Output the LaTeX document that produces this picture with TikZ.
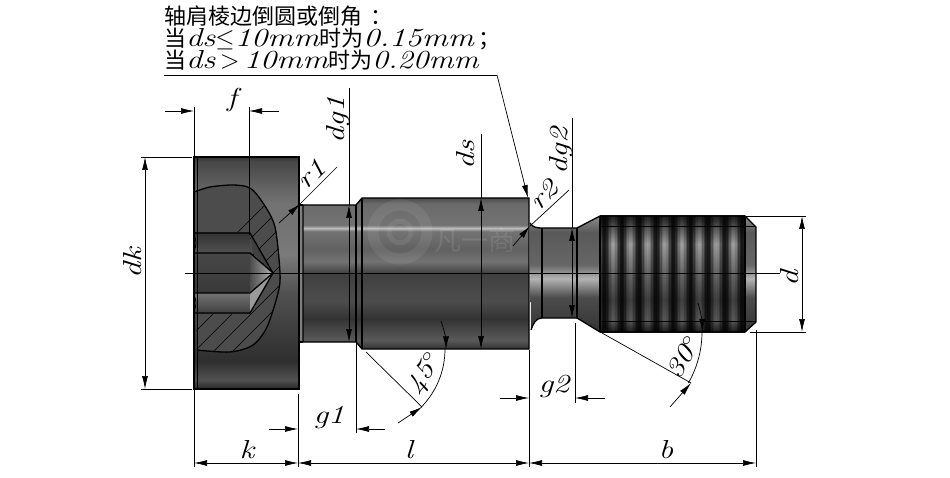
\documentclass[tikz,border=0pt]{standalone}
\usepackage{fontspec}
\newfontfamily\cjk{Noto Sans CJK SC}
\usetikzlibrary{arrows.meta}
\pgfdeclareverticalshading{headshade}{100bp}{color(0bp)=(black!85); color(25bp)=(black!85); color(27bp)=(black!68); color(31bp)=(black!82); color(46bp)=(black!68); color(54bp)=(black!52); color(60bp)=(black!55); color(65bp)=(black!55); color(74bp)=(black!72); color(75bp)=(black!80); color(100bp)=(black!80)}
\pgfdeclareverticalshading{bodyshade}{100bp}{color(0bp)=(black!80); color(25bp)=(black!80); color(28bp)=(black!65); color(35bp)=(black!80); color(41bp)=(black!70); color(50bp)=(black!75); color(54bp)=(black!55); color(58bp)=(black!62); color(64bp)=(black!55); color(65bp)=(black!25); color(66bp)=(black!55); color(73bp)=(black!58); color(75bp)=(black!70); color(100bp)=(black!70)}
\pgfdeclareverticalshading{threadshade}{100bp}{color(0bp)=(black!90); color(25bp)=(black!90); color(30bp)=(black!65); color(39bp)=(black!75); color(50bp)=(black!60); color(56bp)=(black!50); color(63bp)=(black!38); color(71bp)=(black!70); color(75bp)=(black!88); color(100bp)=(black!88)}
\pgfdeclareverticalshading{coneshade}{100bp}{color(0bp)=(black!80); color(25bp)=(black!80); color(40bp)=(black!70); color(48bp)=(black!30); color(54bp)=(black!60); color(68bp)=(black!65); color(75bp)=(black!45); color(100bp)=(black!45)}
\tikzset{
  edge/.style={line width=1.3pt, black},
  dimline/.style={line width=.7pt, black},
  dimarrow/.style={dimline, -{Latex[length=13pt,width=6pt]}},
  lab/.style={inner sep=0pt, font=\fontsize{26}{26}\selectfont\itshape},
  notetext/.style={inner sep=0pt, anchor=base west, font=\fontsize{26}{26}\selectfont},
}
\newcommand{\wide}[1]{\scalebox{1.25}[1]{#1}}
\newcommand{\zh}[1]{{\fontsize{22}{24}\selectfont\cjk #1}}
\newcommand{\seccurve}{plot[smooth] coordinates {(194,192) (210,187) (233,185) (250,188) (263,203) (275,227) (280,273) (278,293) (267,327) (253,345) (230,352) (197,350)}}
\begin{document}
\begin{tikzpicture}[x=1pt,y=-1pt]
  \useasboundingbox[fill=white] (0,0) rectangle (950,478);
  % Cabeca e corpo
  \path[shade, shading=headshade] (194,157) rectangle (299,389);
  \fill[black!50] (299,205) rectangle (303,342);
  \path[shade, shading=bodyshade] (303,205) -- (356,205) -- (362,198) -- (529,198) -- (529,349) -- (362,349) -- (356,342) -- (303,342) -- cycle;
  \path[shade, shading=coneshade] (530,223) to[out=-60,in=180] (542,228) -- (577,228) -- (600,216) -- (600,332) -- (577,318) -- (542,318) to[out=180,in=70] (531,330) -- cycle;
  \path[shade, shading=threadshade] (600,216) -- (745,216) -- (745,332) -- (600,332) -- cycle;
  \path[shade, shading=coneshade] (745,216) -- (756,227) -- (756,322) -- (745,332) -- cycle;
  % Marca d'agua
  \draw[white, opacity=.07, line width=11pt] (400,232) circle (27pt);
  \draw[white, opacity=.07, line width=5pt] (400,232) circle (11pt);
  \node[inner sep=0pt, text=white, opacity=.1, font=\fontsize{27}{27}\selectfont\cjk] (mark) at (475,240) {凡一商};
  % Sulcos da rosca
  \foreach \x in {600,601.5,...,744} {
    \pgfmathsetmacro\groove{0.85*(0.5-0.5*cos(20.93*(\x+0.75-613)))}
    \fill[black, fill opacity=\groove] (\x,216) rectangle (\x+1.5,332);
  }
  % Secao do furo
  \fill[black!70] \seccurve -- cycle;
  \begin{scope}
    \clip \seccurve -- cycle;
    \foreach \i in {0,...,11} {
      \draw[dimline] ({110+\i*19},360) -- ({310+\i*19},160);
    }
  \end{scope}
  \draw[edge] \seccurve;
  % Sextavado interno
  \shade[top color=black!80, bottom color=black!68] (194,233) rectangle (250,253);
  \shade[top color=black!72, bottom color=black!78] (194,253) rectangle (250,293);
  \shade[top color=black!55, bottom color=black!75] (194,293) rectangle (250,313);
  \fill[black!75] (250,233) -- (273,273) -- (253,253) -- cycle;
  \shade[left color=black!70, right color=black!30] (250,253) -- (273,273) -- (250,293) -- cycle;
  \fill[black!40] (250,293) -- (273,273) -- (250,313) -- cycle;
  \draw[edge] (194,233) -- (250,233) -- (273,273) -- (250,313) -- (194,313);
  \draw[edge] (194,253) -- (250,253) -- (273,273) -- (250,293) -- (194,293);
  \draw[dimline] (194,235) to[bend left=25] (194,251) (194,295) to[bend left=25] (194,311);
  % Contornos
  \draw[edge] (194,157) rectangle (299,389);
  \draw[dimline] (194,157) -- (194,389) (197,157) -- (197,389);
  \draw[edge] (303,205) -- (356,205) -- (362,198) -- (529,198) -- (529,349) -- (362,349) -- (356,342) -- (303,342) -- cycle;
  \draw[edge] (299,205) -- (303,205) (299,342) -- (303,342);
  \draw[edge] (356,205) -- (356,342) (362,198) -- (362,349);
  \draw[edge] (530,223) to[out=-60,in=180] (542,228) -- (577,228) -- (600,216) -- (745,216) -- (756,227) -- (756,322) -- (745,332) -- (600,332) -- (577,318) -- (542,318) to[out=180,in=70] (531,330);
  \draw[edge] (542,228) -- (542,318) (577,228) -- (577,318) (600,216) -- (600,332) (745,216) -- (745,332);
  \draw[dimline] (600,226) -- (756,226) (600,321) -- (756,321);
  % Eixo
  \coordinate (ca) at (185,273);
  \coordinate (cb) at (780,273);
  \draw[dimline] (ca) -- (cb);
  % Nota
  \node[notetext] (n1) at (164,25) {\zh{轴肩棱边倒圆或倒角\hspace{8pt}：}};
  \node[notetext] (n2) at (164,47) {\zh{当}\wide{\itshape ds}$\le$\wide{\itshape 10mm}\zh{时为}\wide{\itshape 0.15mm}\zh{\hspace{5pt}；}};
  \node[notetext] (n3) at (164,69) {\zh{当}\wide{\itshape ds}\,>\,\wide{\itshape 10mm}\zh{时为}\scalebox{1.2}[1]{\itshape 0.20mm}};
  \coordinate (nl) at (164,75);
  \coordinate (nk) at (497,75);
  \coordinate (nt) at (528,198);
  \draw[dimline] (nl) -- (nk);
  \draw[dimarrow] (nk) -- (nt);
  % Cota f
  \coordinate (fa) at (194,107); \coordinate (fb) at (194,157);
  \coordinate (fc) at (249,107); \coordinate (fd) at (249,235);
  \coordinate (fl) at (165,111); \coordinate (fr) at (279,111);
  \draw[dimline] (fa) -- (fb) (fc) -- (fd);
  \draw[dimarrow] (fl) -- (194,111);
  \draw[dimarrow] (fr) -- (249,111);
  \node[lab] (flab) at (232,100) {\wide{f}};
  % Cota dk
  \coordinate (ka) at (141,157); \coordinate (kb) at (192,157);
  \coordinate (kc) at (141,389); \coordinate (kd) at (192,389);
  \coordinate (ke) at (145,262);
  \draw[dimline] (ka) -- (kb) (kc) -- (kd);
  \draw[dimarrow] (ke) -- (145,157);
  \draw[dimarrow] (ke) -- (145,389);
  \node[lab, rotate=90] (dklab) at (133,263) {\wide{dk}};
  % Cota dg1
  \coordinate (ga) at (349,88); \coordinate (gb) at (349,273);
  \draw[dimline] (ga) -- (349,205);
  \draw[dimarrow] (gb) -- (349,205);
  \draw[dimarrow] (gb) -- (349,342);
  \node[lab, rotate=90] (dg1lab) at (338,120) {\wide{dg1}};
  % Cota ds
  \coordinate (sa) at (481,134); \coordinate (sb) at (481,273);
  \draw[dimline] (sa) -- (481,198);
  \draw[dimarrow] (sb) -- (481,198);
  \draw[dimarrow] (sb) -- (481,349);
  \node[lab, rotate=90] (dslab) at (466,155) {\wide{ds}};
  % Cota dg2
  \coordinate (ha) at (572,118); \coordinate (hb) at (572,273);
  \draw[dimline] (ha) -- (572,228);
  \draw[dimarrow] (hb) -- (572,228);
  \draw[dimarrow] (hb) -- (572,318);
  \node[lab, rotate=90] (dg2lab) at (561,151) {\wide{dg2}};
  % Cota d
  \coordinate (da) at (745,216); \coordinate (db) at (806,216);
  \coordinate (dc) at (750,332); \coordinate (dd) at (806,332);
  \coordinate (de) at (802,274);
  \draw[dimline] (da) -- (db) (dc) -- (dd);
  \draw[dimarrow] (de) -- (802,216);
  \draw[dimarrow] (de) -- (802,332);
  \node[lab, rotate=90] (dlab) at (790,278) {\wide{d}};
  % Cotas k, l, b
  \coordinate (ea) at (194,389); \coordinate (eb) at (194,467);
  \coordinate (ec) at (298,394); \coordinate (ed) at (298,467);
  \coordinate (ee) at (529,350); \coordinate (ef) at (529,467);
  \coordinate (eg) at (756,330); \coordinate (eh) at (756,467);
  \draw[dimline] (ea) -- (eb) (ec) -- (ed) (ee) -- (ef) (eg) -- (eh);
  \draw[dimarrow] (246,463) -- (194,463);
  \draw[dimarrow] (246,463) -- (298,463);
  \draw[dimarrow] (413,463) -- (298,463);
  \draw[dimarrow] (413,463) -- (529,463);
  \draw[dimarrow] (642,463) -- (529,463);
  \draw[dimarrow] (642,463) -- (756,463);
  \node[lab] (klab) at (247,450) {\wide{k}};
  \node[lab] (llab) at (409,450) {\wide{l}};
  \node[lab] (blab) at (666,450) {\wide{b}};
  % Cota g1
  \coordinate (ia) at (356,342); \coordinate (ib) at (356,433);
  \coordinate (il) at (269,429); \coordinate (ir) at (385,429);
  \draw[dimline] (ia) -- (ib);
  \draw[dimarrow] (il) -- (298,429);
  \draw[dimarrow] (ir) -- (356,429);
  \node[lab] (g1lab) at (329,418) {\wide{g1}};
  % Cota g2
  \coordinate (ja) at (575,323); \coordinate (jb) at (575,403);
  \coordinate (jl) at (500,398); \coordinate (jr) at (605,398);
  \draw[dimline] (ja) -- (jb);
  \draw[dimarrow] (jl) -- (529,398);
  \draw[dimarrow] (jr) -- (575,398);
  \node[lab] (g2lab) at (554,387) {\wide{g2}};
  % Raios
  \coordinate (ra) at (337,167); \coordinate (rb) at (300,204); \coordinate (rc) at (279,223);
  \draw[dimline] (ra) -- (rb);
  \draw[dimarrow] (rc) -- (rb);
  \node[lab, rotate=45] (r1lab) at (311,174) {\wide{r1}};
  \coordinate (sc) at (569,190); \coordinate (sd) at (530,226); \coordinate (se) at (513,246);
  \draw[dimline] (sc) -- (sd);
  \draw[dimarrow] (se) -- (sd);
  \node[lab, rotate=45] (r2lab) at (544,195) {\wide{r2}};
  % Angulo de 45
  \coordinate (aa) at (366,352); \coordinate (ab) at (422,407); \coordinate (ac) at (398,423);
  \draw[dimline] (aa) -- (ab);
  \draw[dimarrow] (441,321) arc[start angle=20,end angle=0,radius=83pt];
  \draw[dimline] (445,349) arc[start angle=0,end angle=-45,radius=83pt];
  \draw[dimarrow] (ac) -- (ab);
  \node[lab, rotate=60] (a45lab) at (425,374) {\wide{45$^\circ$}};
  % Angulo de 30
  \coordinate (ba) at (602,333); \coordinate (bb) at (691,383); \coordinate (bc) at (670,407);
  \draw[dimline] (ba) -- (bb);
  \draw[dimarrow] (698,303) arc[start angle=16.5,end angle=0,radius=102pt];
  \draw[dimline] (702,332) arc[start angle=0,end angle=-30,radius=102pt];
  \draw[dimarrow] (bc) -- (bb);
  \node[lab, rotate=60] (a30lab) at (683,357) {\wide{30$^\circ$}};
\end{tikzpicture}
\end{document}
